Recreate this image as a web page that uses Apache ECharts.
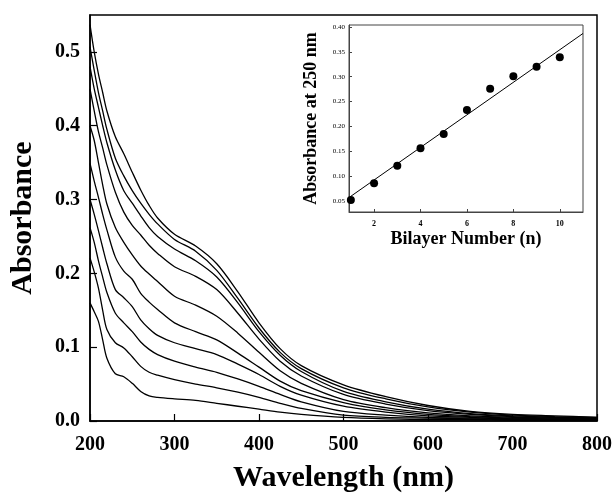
<!DOCTYPE html>
<html>
<head>
<meta charset="utf-8">
<script src="https://cdn.jsdelivr.net/npm/echarts@6/dist/echarts.min.js"></script>
<style>
html,body{margin:0;padding:0;background:#fff;}
#main{width:614px;height:496px;}
</style>
</head>
<body>
<div id="main"></div>
<script>
// wavelength grid (nm) shared by all spectra
var wavelengths = [200, 205, 210, 215, 220, 230, 240, 250, 260, 270, 280, 300, 325, 350, 375, 400, 425, 450, 500, 550, 600, 650, 700, 750, 800];

// absorbance spectra, top (n=10) to bottom (n=1)
var spec10 = [0.537, 0.50, 0.47, 0.445, 0.42, 0.385, 0.362, 0.337, 0.313, 0.292, 0.275, 0.253, 0.237, 0.213, 0.175, 0.133, 0.098, 0.075, 0.049, 0.033, 0.021, 0.013, 0.009, 0.007, 0.005];
var spec9 = [0.507, 0.475, 0.445, 0.42, 0.395, 0.356, 0.332, 0.312, 0.295, 0.280, 0.267, 0.246, 0.230, 0.204, 0.166, 0.126, 0.093, 0.071, 0.045, 0.030, 0.019, 0.012, 0.008, 0.006, 0.005];
var spec8 = [0.48, 0.45, 0.425, 0.40, 0.377, 0.340, 0.312, 0.295, 0.278, 0.262, 0.250, 0.233, 0.217, 0.195, 0.160, 0.121, 0.089, 0.067, 0.040, 0.026, 0.016, 0.010, 0.007, 0.005, 0.004];
var spec7 = [0.45, 0.42, 0.392, 0.37, 0.347, 0.310, 0.283, 0.265, 0.252, 0.238, 0.227, 0.209, 0.196, 0.178, 0.146, 0.111, 0.081, 0.061, 0.036, 0.023, 0.014, 0.009, 0.006, 0.005, 0.004];
var spec6 = [0.40, 0.38, 0.35, 0.32, 0.294, 0.262, 0.242, 0.225, 0.210, 0.199, 0.189, 0.169, 0.157, 0.142, 0.119, 0.093, 0.068, 0.051, 0.029, 0.018, 0.011, 0.007, 0.005, 0.004, 0.003];
var spec5 = [0.349, 0.325, 0.303, 0.280, 0.259, 0.222, 0.203, 0.192, 0.173, 0.161, 0.151, 0.133, 0.121, 0.110, 0.092, 0.073, 0.054, 0.041, 0.025, 0.015, 0.009, 0.006, 0.004, 0.003, 0.003];
var spec4 = [0.30, 0.28, 0.258, 0.235, 0.213, 0.178, 0.167, 0.155, 0.137, 0.125, 0.116, 0.106, 0.098, 0.090, 0.077, 0.063, 0.047, 0.035, 0.020, 0.012, 0.007, 0.005, 0.003, 0.003, 0.002];
var spec3 = [0.262, 0.242, 0.217, 0.195, 0.174, 0.146, 0.133, 0.121, 0.107, 0.097, 0.090, 0.081, 0.073, 0.066, 0.057, 0.047, 0.036, 0.026, 0.013, 0.008, 0.005, 0.004, 0.003, 0.002, 0.002];
var spec2 = [0.221, 0.202, 0.180, 0.150, 0.124, 0.106, 0.099, 0.087, 0.074, 0.066, 0.062, 0.056, 0.050, 0.045, 0.039, 0.032, 0.024, 0.017, 0.008, 0.005, 0.004, 0.003, 0.002, 0.002, 0.002];
var spec1 = [0.16, 0.148, 0.135, 0.11, 0.085, 0.064, 0.060, 0.051, 0.040, 0.034, 0.032, 0.030, 0.028, 0.024, 0.020, 0.016, 0.012, 0.009, 0.005, 0.003, 0.002, 0.002, 0.001, 0.001, 0.001];
var spectra = [spec10, spec9, spec8, spec7, spec6, spec5, spec4, spec3, spec2, spec1];

// inset: absorbance at 250 nm vs bilayer number
var bilayers = [1, 2, 3, 4, 5, 6, 7, 8, 9, 10];
var abs250 = [0.052, 0.086, 0.121, 0.156, 0.185, 0.233, 0.276, 0.301, 0.320, 0.339];
var fitX = [0.92, 11];
var fitY = [0.057, 0.387];

// tick labels
var mainXTicks = [200, 300, 400, 500, 600, 700, 800];
var mainYTicks = [0, 0.1, 0.2, 0.3, 0.4, 0.5];
var insetXTicks = [2, 4, 6, 8, 10];
var insetYTicks = [0.05, 0.10, 0.15, 0.20, 0.25, 0.30, 0.35, 0.40];

function pairs(xs, ys)
{
    var out = [];
    for (var i = 0; i < xs.length; i++) out.push([xs[i], ys[i]]);
    return out;
}

function AbsorbanceChart(elementId)
{
    var myChart = echarts.init(document.getElementById(elementId), null, {renderer: 'canvas'});
    var serif = 'Liberation Serif';

    var series = [];
    for (var k = 0; k < spectra.length; k++) {
        series.push({
            type: 'line',
            xAxisIndex: 0,
            yAxisIndex: 0,
            data: pairs(wavelengths, spectra[k]),
            smooth: 0.3,
            showSymbol: false,
            silent: true,
            lineStyle: {color: '#000', width: 1.3}
        });
    }
    // inset points
    series.push({
        type: 'scatter',
        xAxisIndex: 1,
        yAxisIndex: 1,
        data: pairs(bilayers, abs250),
        symbol: 'circle',
        symbolSize: 8,
        itemStyle: {color: '#000', opacity: 1},
        z: 5
    });
    // inset linear fit
    series.push({
        type: 'line',
        xAxisIndex: 1,
        yAxisIndex: 1,
        data: pairs(fitX, fitY),
        showSymbol: false,
        lineStyle: {color: '#000', width: 1},
        z: 4
    });

    var option =
    {
        backgroundColor: '#fff',
        animation: false,
        grid: [
            {
                left: 90, right: 17, top: 15, bottom: 75,
                show: true, borderColor: '#000', borderWidth: 1.5,
                outerBoundsMode: 'none'
            },
            {
                left: 349, right: 31, top: 25, bottom: 284,
                show: true, borderColor: '#444', borderWidth: 1,
                backgroundColor: '#fff',
                outerBoundsMode: 'none'
            }
        ],
        xAxis: [
            {
                type: 'value', gridIndex: 0,
                min: 200, max: 800, interval: 100,
                name: 'Wavelength (nm)', nameLocation: 'middle', nameGap: 42,
                nameTextStyle: {fontFamily: serif, fontWeight: 'bold', fontSize: 30, color: '#000'},
                axisLine: {show: true, lineStyle: {color: '#000', width: 1.5}},
                axisTick: {show: true, inside: true, length: 7, lineStyle: {color: '#000', width: 1.2}},
                axisLabel: {
                    margin: 14, fontFamily: serif, fontWeight: 'bold', fontSize: 20, color: '#000',
                    customValues: mainXTicks
                },
                splitLine: {show: false}
            },
            {
                type: 'value', gridIndex: 1,
                min: 0.92, max: 11,
                name: 'Bilayer Number (n)', nameLocation: 'middle', nameGap: 18,
                nameTextStyle: {fontFamily: serif, fontWeight: 'bold', fontSize: 18, color: '#000'},
                axisLine: {show: true, lineStyle: {color: '#444', width: 1}},
                axisTick: {show: true, inside: true, length: 3, customValues: insetXTicks, lineStyle: {color: '#444'}},
                axisLabel: {
                    margin: 8, fontFamily: serif, fontWeight: 'bold', fontSize: 8, color: '#000',
                    customValues: insetXTicks
                },
                splitLine: {show: false}
            }
        ],
        yAxis: [
            {
                type: 'value', gridIndex: 0,
                min: 0, max: 0.55, interval: 0.1,
                name: 'Absorbance', nameLocation: 'middle', nameGap: 52,
                nameTextStyle: {fontFamily: serif, fontWeight: 'bold', fontSize: 30, color: '#000'},
                axisLine: {show: true, lineStyle: {color: '#000', width: 1.5}},
                axisTick: {show: true, inside: true, length: 7, customValues: mainYTicks, lineStyle: {color: '#000', width: 1.2}},
                axisLabel: {
                    margin: 10, fontFamily: serif, fontWeight: 'bold', fontSize: 20, color: '#000',
                    customValues: mainYTicks,
                    formatter: function (v) { return v.toFixed(1); }
                },
                splitLine: {show: false}
            },
            {
                type: 'value', gridIndex: 1,
                min: 0.028, max: 0.404,
                name: 'Absorbance at 250 nm', nameLocation: 'middle', nameGap: 29,
                nameTextStyle: {fontFamily: serif, fontWeight: 'bold', fontSize: 18, color: '#000'},
                axisLine: {show: true, lineStyle: {color: '#444', width: 1}},
                axisTick: {show: true, inside: true, length: 3, customValues: insetYTicks, lineStyle: {color: '#444'}},
                axisLabel: {
                    margin: 4, fontFamily: serif, fontSize: 7, color: '#000',
                    customValues: insetYTicks,
                    formatter: function (v) { return v.toFixed(2); }
                },
                splitLine: {show: false}
            }
        ],
        series: series
    };
    myChart.setOption(option);
    return myChart;
}

AbsorbanceChart('main');
</script>
</body>
</html>
